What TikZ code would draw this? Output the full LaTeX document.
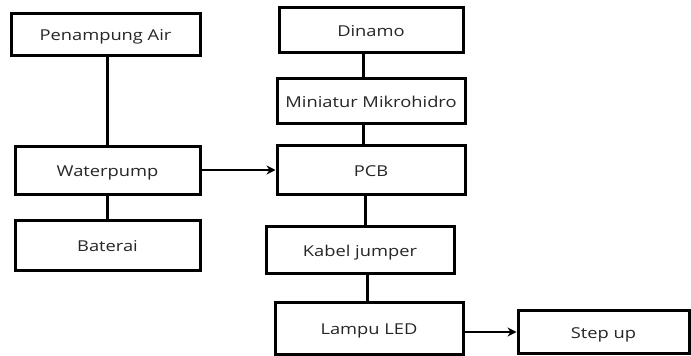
\documentclass[tikz,border=0pt]{standalone}
\usepackage{fontspec}
\setmainfont{Open Sans}[FakeStretch=1.22]
\usetikzlibrary{arrows.meta}
\begin{document}
\begin{tikzpicture}[x=1pt,y=-1pt,
  box/.style={draw=black,line width=3pt,fill=white,inner sep=0pt,text height=11pt,text depth=0pt,font=\fontsize{15}{18}\selectfont,text=black!85},
  link/.style={draw=black,line width=3pt},
  arr/.style={draw=black,line width=2.4pt,-{Stealth[length=9pt,width=9pt]}}]
\useasboundingbox (0,0) rectangle (691,356);
\newcommand{\bx}[6]{\node[box,minimum width=#4-#2,minimum height=#5-#3] (#1) at ({(#2+#4)/2},{(#3+#5)/2}) {\raisebox{-1pt}{#6}};}
\bx{pa}{11}{13}{200}{55}{Penampung Air}
\bx{wp}{15}{146}{200}{194}{Waterpump}
\bx{bt}{15}{220}{200}{270}{Baterai}
\bx{dn}{279}{7}{463}{52}{Dinamo}
\bx{mm}{277}{78}{465}{123}{Miniatur Mikrohidro}
\bx{pcb}{277}{145}{465}{194}{PCB}
\bx{kj}{266}{226}{454}{273}{Kabel jumper}
\bx{led}{275}{302}{463}{354}{Lampu LED}
\bx{su}{518}{310}{689}{353}{Step up}
\draw[link] (pa.south -| 107,0) -- (wp.north -| 107,0);
\draw[link] (wp.south -| 107,0) -- (bt.north -| 107,0);
\draw[link] (dn.south -| 363,0) -- (mm.north -| 363,0);
\draw[link] (mm.south -| 363,0) -- (pcb.north -| 363,0);
\draw[link] (pcb.south -| 365,0) -- (kj.north -| 365,0);
\draw[link] (kj.south -| 367,0) -- (led.north -| 367,0);
\draw[arr] (wp.east |- 0,170) -- (pcb.west |- 0,170);
\draw[arr] (led.east |- 0,332) -- (su.west |- 0,332);
\end{tikzpicture}
\end{document}
